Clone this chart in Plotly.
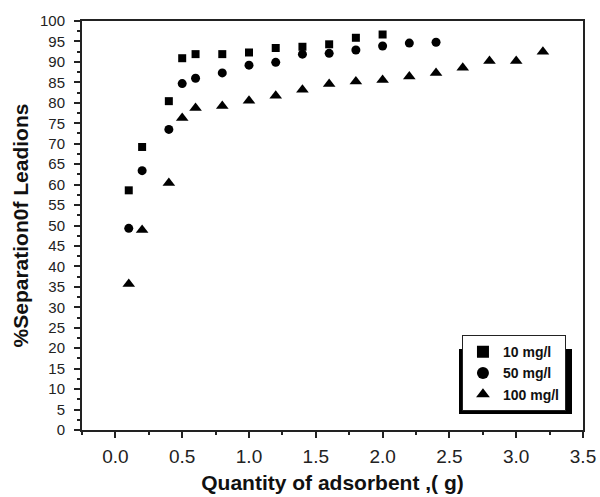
import plotly.graph_objects as go

x10 = [0.1, 0.2, 0.4, 0.5, 0.6, 0.8, 1.0, 1.2, 1.4, 1.6, 1.8, 2.0]
y10 = [58.6, 69.2, 80.4, 90.9, 91.9, 91.9, 92.3, 93.4, 93.7, 94.3, 95.9, 96.7]

x50 = [0.1, 0.2, 0.4, 0.5, 0.6, 0.8, 1.0, 1.2, 1.4, 1.6, 1.8, 2.0, 2.2, 2.4]
y50 = [49.3, 63.4, 73.5, 84.7, 86.0, 87.3, 89.2, 89.9, 91.9, 92.1, 92.9, 93.9, 94.6, 94.8]

x100 = [0.1, 0.2, 0.4, 0.5, 0.6, 0.8, 1.0, 1.2, 1.4, 1.6, 1.8, 2.0, 2.2, 2.4, 2.6, 2.8, 3.0, 3.2]
y100 = [35.7, 48.9, 60.4, 76.3, 78.7, 79.2, 80.5, 81.7, 83.2, 84.6, 85.2, 85.6, 86.4, 87.3, 88.6, 90.2, 90.2, 92.5]

names = ["10 mg/l", "50 mg/l", "100 mg/l"]

FONT = "Liberation Sans, Arial, sans-serif"

fig = go.Figure()
fig.add_trace(go.Scatter(x=x10, y=y10, mode="markers", name=names[0],
                         marker=dict(symbol="square", size=8, color="black")))
fig.add_trace(go.Scatter(x=x50, y=y50, mode="markers", name=names[1],
                         marker=dict(symbol="circle", size=9, color="black")))
fig.add_trace(go.Scatter(x=x100, y=y100, mode="markers", name=names[2],
                         marker=dict(symbol="triangle-up", size=11, color="black")))

axis_common = dict(showline=True, linecolor="#222", linewidth=2, mirror=True,
                   showgrid=False, zeroline=False, ticks="outside",
                   tickcolor="#222", tickwidth=1.5, ticklen=6, automargin=False)

fig.update_xaxes(range=[-0.25, 3.5], tickmode="linear", tick0=0, dtick=0.5,
                 tickformat=".1f", ticklabelstandoff=2,
                 tickfont=dict(family=FONT, size=19, color="#222"),
                 minor=dict(ticks="outside", dtick=0.25, tick0=0, ticklen=3,
                            tickcolor="#222", tickwidth=1.5),
                 title=dict(text="<b>Quantity of adsorbent ,( g)</b>",
                            font=dict(family=FONT, size=21, color="#111"),
                            standoff=10),
                 **axis_common)
fig.update_yaxes(range=[0, 100], tickmode="linear", tick0=0, dtick=5,
                 ticklabelstandoff=6,
                 tickfont=dict(family=FONT, size=15, color="#222"),
                 minor=dict(ticks="outside", dtick=2.5, tick0=0, ticklen=3,
                            tickcolor="#222", tickwidth=1.5),
                 title=dict(text="<b>%Separation0f Leadions</b>",
                            font=dict(family=FONT, size=21, color="#111"),
                            standoff=6),
                 **axis_common)

fig.update_layout(
    width=600, height=497,
    margin=dict(l=82, r=17, t=21, b=67),
    paper_bgcolor="white", plot_bgcolor="white",
    showlegend=True,
    legend=dict(x=0.966, y=0.046, xanchor="right", yanchor="bottom",
                bgcolor="white", bordercolor="#222", borderwidth=1,
                font=dict(family=FONT, size=14, color="#111", weight="bold"),
                itemsizing="constant", tracegroupgap=0),
    shapes=[dict(type="rect", xref="paper", yref="paper",
                 x0=(459 - 82) / 501, x1=(572 - 82) / 501,
                 y0=(430 - 414) / 409, y1=(430 - 349) / 409,
                 fillcolor="black", line=dict(width=0), layer="above")],
)

fig.write_html("out.html")
